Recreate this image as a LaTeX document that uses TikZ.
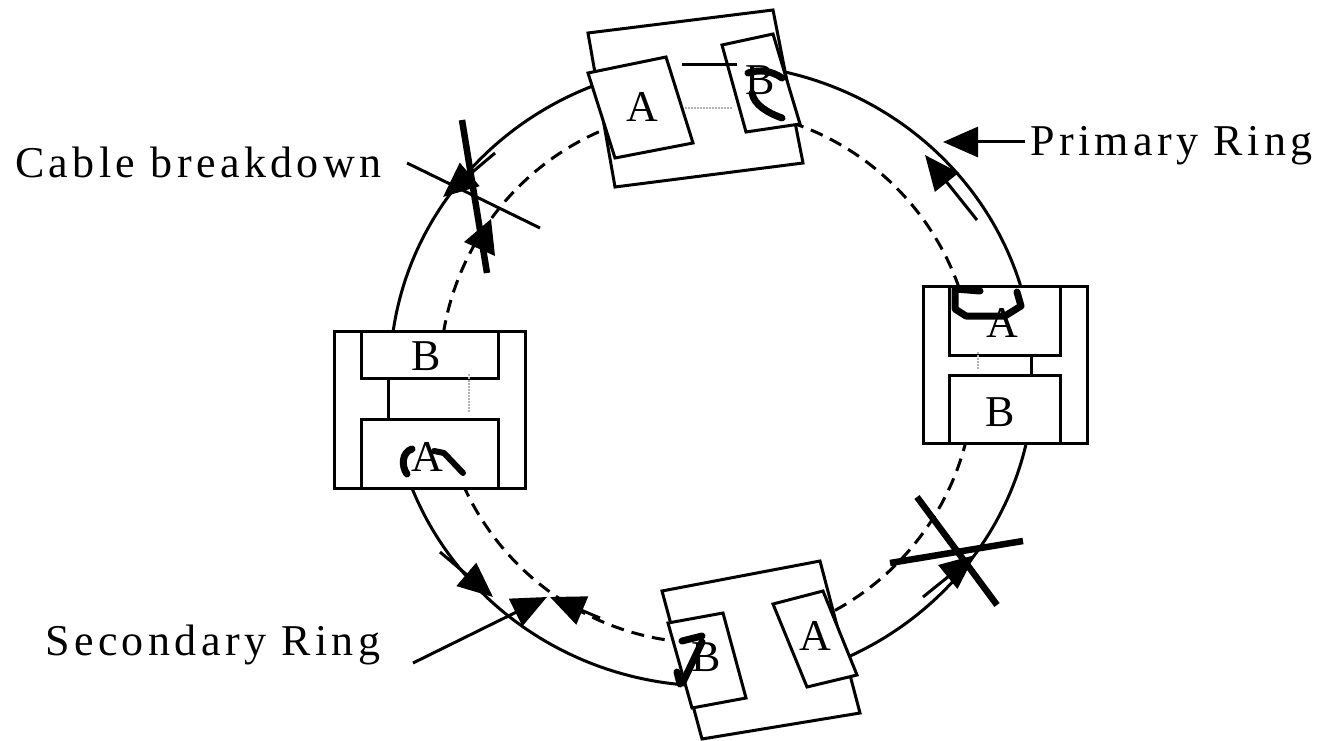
\documentclass[tikz,border=0pt]{standalone}
\usepackage{fontspec}
\setmainfont{Liberation Serif}
\newfontfamily\lblfont[LetterSpace=10]{Liberation Serif}
\usetikzlibrary{arrows.meta}
\begin{document}
\begin{tikzpicture}[x=1pt,y=-1pt,
  ring/.style={line width=3pt},
  sring/.style={line width=3pt, dash pattern=on 13pt off 8pt},
  box/.style={line width=3pt, fill=white, line join=miter},
  lbl/.style={font=\lblfont\fontsize{44}{50}\selectfont, inner sep=0pt, anchor=base west},
  letr/.style={font=\fontsize{44}{50}\selectfont, inner sep=0pt},
  scrib/.style={line width=7pt, line cap=round, line join=round},
  ptr/.style={line width=3pt, -{Triangle[length=35pt,width=30pt]}},
  cut/.style={line width=6.5pt},
  thinl/.style={line width=3pt},
  dots/.style={line width=1.5pt, gray!60, dash pattern=on 1.5pt off 1.5pt}]
\useasboundingbox (0,0) rectangle (1322,741);
\fill[white] (0,0) rectangle (1322,741);

% rings
\draw[ring] (712,375) ellipse [x radius=322, y radius=311];
\draw[sring] (707,376) circle [radius=267];

% top station
\draw[box] (588,33) -- (773,10) -- (803,163) -- (615,187) -- cycle;
\draw[box] (588,73) -- (666,57) -- (693,143) -- (615,158) -- cycle;
\draw[box] (722,45) -- (773,34) -- (800,124) -- (746,132) -- cycle;
\draw[thinl] (682,65) -- (737,65);
\draw[dots] (685,108) -- (733,108);
\node[letr] (tA) at (642,107) {A};
\node[letr] (tB) at (760,80) {B};
\draw[scrib] (748,73) .. controls (760,69) and (772,71) .. (782,78);
\draw[scrib] (752,93) .. controls (754,105) and (768,113) .. (782,118);

% right station
\draw[box] (923,286) rectangle (1087,443);
\draw[box] (949,286) rectangle (1060,355);
\draw[box] (949,375) rectangle (1060,443);
\draw[thinl] (1031,355) -- (1031,375);
\draw[dots] (978,352) -- (978,370);
\node[letr] (rA) at (1002,323) {A};
\node[letr] (rB) at (1000,412) {B};
\draw[scrib] (980,291) -- (955,289) -- (955,309) -- (966,316) -- (1005,316) -- (1021,306) -- (1017,292);

% left station
\draw[box] (334,331) rectangle (525,488);
\draw[box] (361,331) rectangle (498,378);
\draw[box] (361,419) rectangle (498,488);
\draw[thinl] (388,378) -- (388,419);
\draw[dots] (469,374) -- (469,413);
\node[letr] (lB) at (426,356) {B};
\node[letr] (lA) at (427,457) {A};
\draw[scrib] (412,449) .. controls (402,452) and (401,466) .. (407,474);
\draw[line width=6pt, line cap=round, line join=round] (434,451) -- (444,453) -- (463,473);

% bottom station
\draw[box] (662,591) -- (820,561) -- (860,713) -- (702,739) -- cycle;
\draw[box] (668,623) -- (723,613) -- (746,698) -- (692,708) -- cycle;
\draw[box] (773,604) -- (823,591) -- (857,675) -- (807,687) -- cycle;
\node[letr] (bB) at (706,657) {B};
\node[letr] (bA) at (815,636) {A};
\draw[scrib] (682,641) -- (702,636);
\draw[scrib] (702,642) -- (683,682);
\draw[scrib] (677,672) -- (680,684);

% ring direction arrows
\coordinate (p1s) at (977,220); \coordinate (p1e) at (925,155);
\coordinate (p2s) at (440,552); \coordinate (p2e) at (493,597);
\coordinate (p3s) at (923,597); \coordinate (p3e) at (975,555);
\coordinate (p4s) at (495,153); \coordinate (p4e) at (443,197);
\coordinate (s1s) at (600,618); \coordinate (s1e) at (550,597);
\draw[ptr] (p1s) -- (p1e);
\draw[ptr] (p2s) -- (p2e);
\draw[ptr] (p3s) -- (p3e);
\draw[ptr] (p4s) -- (p4e);
\draw[ptr] (s1s) -- (s1e);
\fill (464,242) -- (491,219) -- (495,256) -- cycle;

% cable breaks
\draw[cut] (462,120) -- (487,273);
\draw[thinl] (407,163) -- (540,228);
\draw[cut] (917,497) -- (997,605);
\draw[cut] (890,563) -- (1023,541);

% labels
\node[lbl] (prim) at (1030,156) {Primary Ring};
\node[lbl] (cab) at (15,177) {Cable breakdown};
\node[lbl] (sec) at (45,655) {Secondary Ring};
\coordinate (prs) at (1025,142); \coordinate (pre) at (943,142);
\coordinate (ses) at (413,663); \coordinate (see) at (547,597);
\draw[ptr] (prs) -- (pre);
\draw[ptr] (ses) -- (see);
\end{tikzpicture}
\end{document}
